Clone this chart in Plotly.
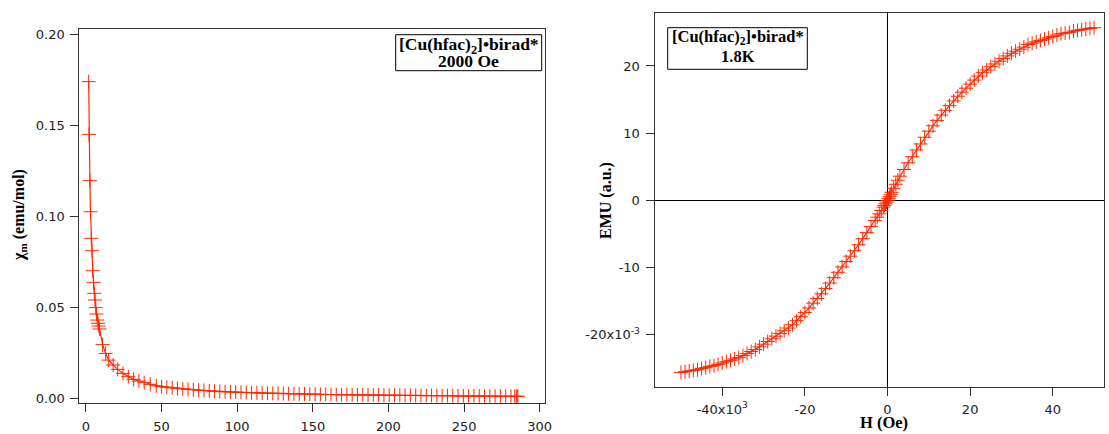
import plotly.graph_objects as go

# ---------------- data: left panel (chi_m vs T at 2000 Oe) ----------------
T_K = [1.8, 2.0, 2.6, 3.0, 3.5, 4.0, 4.5, 5.0, 5.5, 6.0, 6.5, 7.0, 7.5, 8.0, 8.5, 9.0,
       11.0, 13.0, 15.0, 18.0, 21.0, 24.5, 28.0, 31.5, 35.0, 38.5, 42.5, 46.5,
       50.0, 53.5, 57.0, 60.5, 64.0, 67.5, 71.0, 74.5, 78.0, 81.5, 85.0, 88.5, 92.0,
       95.5, 99.0, 102.5, 106.0, 109.5, 113.0, 116.5, 120.0, 123.5, 127.0, 130.5,
       134.0, 137.5, 141.0, 144.5, 148.0, 151.5, 155.0, 158.5, 162.0, 165.5, 169.0,
       172.5, 176.0, 179.5, 183.0, 186.5, 190.0, 193.5, 197.0, 200.5, 204.0, 207.5,
       211.0, 214.5, 218.0, 221.5, 225.0, 228.5, 232.0, 235.5, 239.0, 242.5, 246.0,
       249.5, 253.0, 256.5, 260.0, 263.5, 267.0, 270.5, 274.0, 277.5, 281.0, 283.5,
       284.5, 285.0, 285.5]
chi_m = [0.174, 0.145, 0.1196, 0.1025, 0.0879, 0.0811, 0.0701, 0.0637, 0.0577, 0.054,
         0.0498, 0.0463, 0.043, 0.0412, 0.0397, 0.0381, 0.0295, 0.0247, 0.021, 0.0183,
         0.0159, 0.0137, 0.0119, 0.0104, 0.0095, 0.0086, 0.0077, 0.0069,
         0.0064, 0.0061, 0.0058, 0.0055, 0.0052, 0.0049, 0.0047, 0.0045, 0.0043, 0.0041,
         0.0039, 0.0038, 0.0036, 0.0035, 0.0034, 0.0033, 0.0032, 0.0031, 0.0030, 0.0029,
         0.0028, 0.0027, 0.0027, 0.0026, 0.0025, 0.0025, 0.0024, 0.0024, 0.0023, 0.0023,
         0.0022, 0.0021, 0.0021, 0.0020, 0.0020, 0.0020, 0.0019, 0.0019, 0.0019, 0.0018,
         0.0018, 0.0018, 0.0017, 0.0017, 0.0017, 0.0017, 0.0016, 0.0016, 0.0016, 0.0016,
         0.0015, 0.0015, 0.0015, 0.0015, 0.0015, 0.0014, 0.0013, 0.0013, 0.0013, 0.0013,
         0.0013, 0.0012, 0.0012, 0.0012, 0.0012, 0.0012, 0.0011, 0.0011, 0.0011, 0.0011,
         0.0011]

left_xticks = [0, 50, 100, 150, 200, 250, 300]
left_yticks = [0.0, 0.05, 0.10, 0.15, 0.20]
left_yticklabels = ["0.00", "0.05", "0.10", "0.15", "0.20"]

# ---------------- data: right panel (magnetisation vs H at 1.8 K) ----------------
H_Oe = [-50000, -49000, -48000, -47000, -46000, -45000, -44000, -43000, -42000, -41000,
        -40000, -39000, -38000, -37000, -36000, -35000, -34000, -33000, -32000, -31000,
        -30000, -29000, -28000, -27000, -26000, -25000, -24000, -23000, -22000, -21000,
        -20000, -19000, -18000, -17000, -16000, -15000, -14000, -13000, -12000, -11000,
        -10000, -9000, -8000, -7000, -6000, -5000, -4000, -3000, -2500, -2000, -1500,
        -1000, -750, -500, -250, 0, 250, 500, 750, 1000, 1500, 2000, 2500, 3000, 4000,
        5000, 6000, 7000, 8000, 9000, 10000, 11000, 12000, 13000, 14000, 15000, 16000,
        17000, 18000, 19000, 20000, 21000, 22000, 23000, 24000, 25000, 26000, 27000,
        28000, 29000, 30000, 31000, 32000, 33000, 34000, 35000, 36000, 37000, 38000,
        39000, 40000, 41000, 42000, 43000, 44000, 45000, 46000, 47000, 48000, 49000, 50000]
EMU = [-25.6, -25.5, -25.4, -25.3, -25.2, -25.0, -24.9, -24.7, -24.6, -24.4,
       -24.2, -24.0, -23.8, -23.6, -23.4, -23.1, -22.8, -22.5, -22.2, -21.8,
       -21.4, -21.0, -20.6, -20.2, -19.8, -19.4, -19.0, -18.5, -17.9, -17.3,
       -16.7, -16.0, -15.3, -14.6, -13.9, -13.1, -12.3, -11.5, -10.7, -9.9,
       -9.1, -8.3, -7.5, -6.6, -5.7, -4.8, -3.9, -3.0, -2.5, -2.0, -1.5,
       -1.0, -0.75, -0.5, -0.25, 0.0, 0.3, 0.6, 0.9, 1.2, 1.8, 2.4, 3.0, 3.6, 4.6,
       5.6, 6.5, 7.5, 8.4, 9.4, 10.3, 11.1, 11.9, 12.7, 13.4, 14.1, 14.8,
       15.5, 16.1, 16.7, 17.3, 17.9, 18.5, 19.0, 19.4, 19.9, 20.3, 20.7,
       21.1, 21.5, 21.9, 22.2, 22.5, 22.8, 23.2, 23.4, 23.6, 23.8, 24.0,
       24.2, 24.4, 24.6, 24.8, 24.9, 25.0, 25.2, 25.3, 25.4, 25.5, 25.6, 25.7]

right_xticks = [-40000, -20000, 0, 20000, 40000]
right_xticklabels = ["-40x10<sup>3</sup>", "-20", "0", "20", "40"]
right_yticks = [-20, -10, 0, 10, 20]
right_yticklabels = ["-20x10<sup>-3</sup>", "-10", "0", "10", "20"]

sample_name = "[Cu(hfac)<sub>2</sub>]•birad*"
left_condition = "2000 Oe"
right_condition = "1.8K"

# ---------------- styling ----------------
W, H = 1109, 434
RED = "rgb(255,40,0)"
AX = "#333333"
TICKFONT = dict(family="DejaVu Sans", size=13, color="#222222")
SERIF = "Liberation Serif"

fig = go.Figure()

marker_style = dict(symbol="cross-thin", size=10, color=RED, line=dict(color=RED, width=1))

fig.add_trace(go.Scatter(
    x=T_K, y=chi_m, mode="lines+markers",
    line=dict(color=RED, width=1.2), marker=marker_style,
    xaxis="x", yaxis="y", showlegend=False))

fig.add_trace(go.Scatter(
    x=H_Oe, y=EMU, mode="lines+markers",
    line=dict(color=RED, width=1.2), marker=marker_style,
    xaxis="x2", yaxis="y2", showlegend=False))

def px_x(p):
    return p / W

def px_y(p):
    return 1 - p / H

common = dict(showgrid=False, showline=True, linecolor=AX, linewidth=1,
              mirror=True, ticks="outside", ticklen=8, tickcolor=AX, tickwidth=1,
              tickfont=TICKFONT, zeroline=False, automargin=False)
zl = dict(zeroline=True, zerolinecolor="black", zerolinewidth=1)

fig.update_layout(
    template="none",
    width=W, height=H, autosize=False,
    margin=dict(l=0, r=0, t=0, b=0, pad=0),
    paper_bgcolor="white", plot_bgcolor="white",
    font=dict(family="DejaVu Sans", size=13, color="#222222"),
    xaxis=dict(domain=[px_x(79.3), px_x(545)], range=[-4.4, 303.5],
               tickvals=left_xticks, anchor="y", ticklabelstandoff=4, **common),
    yaxis=dict(domain=[px_y(402.7), px_y(29)], range=[-0.0024, 0.2029],
               tickvals=left_yticks, ticktext=left_yticklabels, anchor="x",
               ticklabelstandoff=3, **common),
    xaxis2=dict(domain=[px_x(654.5), px_x(1104)], range=[-56400, 52400],
                tickvals=right_xticks, ticktext=right_xticklabels, anchor="y2",
                ticklabelstandoff=2, **{**common, **zl}),
    yaxis2=dict(domain=[px_y(387.2), px_y(12.7)], range=[-27.8, 27.93],
                tickvals=right_yticks, ticktext=right_yticklabels, anchor="x2",
                ticklabelstandoff=3, **{**common, **zl}),
)

def label(text, x, y, size, **kw):
    d = dict(text=text, xref="paper", yref="paper", x=px_x(x), y=px_y(y),
             showarrow=False, xanchor="center", yanchor="middle",
             font=dict(family=SERIF, size=size, color="black"))
    d.update(kw)
    return d

ann = [
    # axis titles
    label("<b>χ<sub>m</sub> (emu/mol)</b>", 19, 215, 16, textangle=-90),
    label("<b>EMU (a.u.)</b>", 606, 201, 16, textangle=-90),
    label("<b>H (Oe)</b>", 884, 434, 16.5, yanchor="bottom"),
    # legend box texts
    label("<b>" + sample_name + "</b>", 468.7, 45.5, 17.5),
    label("<b>" + left_condition + "</b>", 468.7, 61.5, 17.5),
    label("<b>" + sample_name + "</b>", 737.5, 37.5, 16.5),
    label("<b>" + right_condition + "</b>", 737.5, 56, 16.5),
]
fig.update_layout(annotations=ann)

# legend box outlines
box_line = dict(color="black", width=1)
fig.update_layout(shapes=[
    dict(type="rect", xref="paper", yref="paper", x0=px_x(395.7), x1=px_x(541.7),
         y0=px_y(70.7), y1=px_y(34.7), line=box_line, fillcolor="rgba(0,0,0,0)", layer="above"),
    dict(type="rect", xref="paper", yref="paper", x0=px_x(667.7), x1=px_x(807.3),
         y0=px_y(69.3), y1=px_y(27.7), line=box_line, fillcolor="rgba(0,0,0,0)", layer="above"),
])

fig.write_html("out.html", config={"displayModeBar": False, "responsive": False})

# remove the default page margin so the figure sits at the window's top-left corner
with open("out.html", "r", encoding="utf-8") as f:
    html = f.read()
html = html.replace("<head>", "<head><style>html,body{margin:0;padding:0;overflow:hidden;}</style>", 1)
with open("out.html", "w", encoding="utf-8") as f:
    f.write(html)
